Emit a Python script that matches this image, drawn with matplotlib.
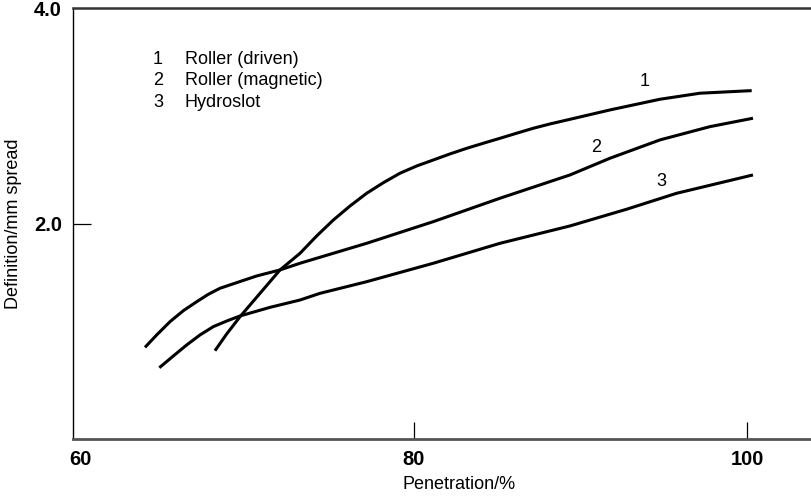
import matplotlib.pyplot as plt

plt.rcParams['font.family'] = ['Liberation Sans', 'DejaVu Sans']

# Curve 1: Roller (driven)
x1 = [68.06, 68.76, 69.56, 70.76, 71.96, 73.16, 74.16, 75.16, 76.16, 77.16,
      78.16, 79.16, 80.16, 81.16, 82.16, 83.16, 84.16, 85.16, 86.16, 87.16,
      88.16, 89.36, 91.76, 94.76, 97.16, 100.26]
y1 = [0.822, 0.977, 1.137, 1.354, 1.571, 1.725, 1.886, 2.034, 2.164, 2.282,
      2.380, 2.468, 2.535, 2.591, 2.647, 2.699, 2.746, 2.792, 2.839, 2.885,
      2.925, 2.968, 3.055, 3.154, 3.21, 3.234]

# Curve 2: Roller (magnetic)
x2 = [63.86, 64.56, 65.36, 66.16, 66.96, 67.66, 68.36, 69.36, 70.56, 71.96,
      73.16, 77.16, 81.16, 85.16, 89.36, 91.76, 94.76, 97.76, 100.34]
y2 = [0.853, 0.968, 1.091, 1.193, 1.276, 1.345, 1.401, 1.453, 1.515, 1.571,
      1.633, 1.818, 2.019, 2.236, 2.452, 2.607, 2.777, 2.9, 2.978]

# Curve 3: Hydroslot
x3 = [64.72, 65.56, 66.36, 67.16, 67.96, 68.76, 69.56, 71.36, 73.16, 74.36,
      77.16, 81.16, 85.16, 89.36, 92.76, 95.76, 100.34]
y3 = [0.664, 0.773, 0.875, 0.968, 1.045, 1.097, 1.144, 1.224, 1.292, 1.354,
      1.462, 1.633, 1.818, 1.979, 2.134, 2.282, 2.452]

key_numbers = ['1', '2', '3']
key_names = ['Roller (driven)', 'Roller (magnetic)', 'Hydroslot']
xticks = [60, 80, 100]
yticks = [2.0, 4.0]

fig = plt.figure(figsize=(8.12, 4.99), dpi=100)
ax = fig.add_axes([0.0899, 0.1196, 0.9101, 0.8643])

for xs, ys in [(x1, y1), (x2, y2), (x3, y3)]:
    ax.plot(xs, ys, color='black', lw=2.2, solid_capstyle='butt',
            solid_joinstyle='round')

ax.set_xlim(59.54, 103.88)
ax.set_ylim(0, 4)

ax.spines['right'].set_visible(False)
ax.spines['left'].set_color('black')
ax.spines['left'].set_linewidth(1.0)
ax.spines['bottom'].set_color('#555555')
ax.spines['bottom'].set_linewidth(2.0)
ax.spines['top'].set_color('#333333')
ax.spines['top'].set_linewidth(1.8)

ax.set_xticks(xticks)
ax.set_xticklabels([str(t) for t in xticks], fontsize=14.5, fontweight='bold')
ax.set_yticks(yticks)
ax.set_yticklabels(['%.1f' % t for t in yticks], fontsize=14.5, fontweight='bold')
ax.tick_params(axis='x', direction='in', length=12.6, width=0.9, pad=8)
ax.tick_params(axis='y', direction='in', length=12.6, width=0.9, pad=8)
ax.xaxis.get_major_ticks()[0].tick1line.set_visible(False)
ax.yaxis.get_major_ticks()[1].tick1line.set_visible(False)

ax.set_xlabel('Penetration/%', fontsize=13)
ax.xaxis.set_label_coords(0.522, -0.085)
ax.set_ylabel('Definition/mm spread', fontsize=13)
ax.yaxis.set_label_coords(-0.069, 0.5)

# key in the top left
key_y = [3.523, 3.324, 3.12]
for num, name, ky in zip(key_numbers, key_names, key_y):
    ax.text(64.64, ky, num, fontsize=13, ha='center', va='center')
    ax.text(66.26, ky, name, fontsize=13, ha='left', va='center')

# curve numbers
ax.text(93.86, 3.317, '1', fontsize=13, ha='center', va='center')
ax.text(90.90, 2.709, '2', fontsize=13, ha='center', va='center')
ax.text(94.86, 2.39, '3', fontsize=13, ha='center', va='center')

fig.savefig('out.png', dpi=100)
